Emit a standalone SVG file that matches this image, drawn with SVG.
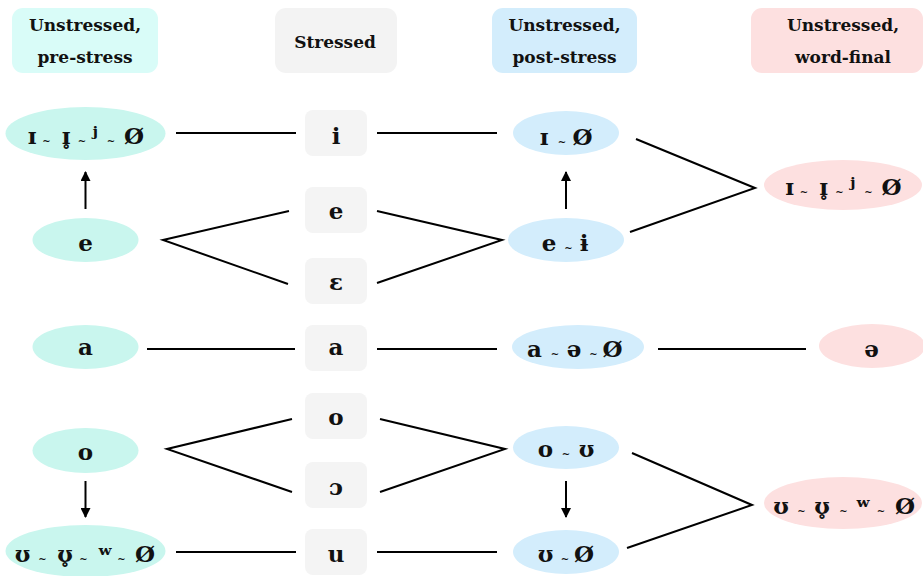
<svg xmlns="http://www.w3.org/2000/svg" width="923" height="576" viewBox="0 0 923 576">
<defs>
<style>
text{font-family:"DejaVu Serif","Liberation Serif",serif;font-weight:bold;fill:#111;text-anchor:middle}
.h{font-size:17px}
.n{font-size:23px}
.t{font-size:10px}
.c1{fill:#c9f6ee}
.c3{fill:#d3edfc}
.c4{fill:#fde0e0}
.st{fill:#f4f4f4}
.ln{stroke:#000;stroke-width:2;fill:none}
</style>
<marker id="ah" viewBox="0 0 10 10" refX="9" refY="5" markerWidth="5" markerHeight="5" orient="auto" markerUnits="strokeWidth">
<path d="M0,0 L10,5 L0,10 z" fill="#000"/>
</marker>
</defs>
<rect width="923" height="576" fill="#fff"/>

<g id="header1"><rect x="12" y="8" width="146" height="65" rx="11" fill="#d9fcf8"/><text class="h" x="85" y="31">Unstressed,</text><text class="h" x="85" y="63">pre-stress</text></g>
<g id="header2"><rect x="275" y="8" width="122" height="65" rx="11" fill="#f3f3f3"/><text class="h" x="335" y="48">Stressed</text></g>
<g id="header3"><rect x="492" y="8" width="145" height="65" rx="11" fill="#d3edfc"/><text class="h" x="564.5" y="31">Unstressed,</text><text class="h" x="564.5" y="63">post-stress</text></g>
<g id="header4"><rect x="751" y="8" width="172" height="65" rx="11" fill="#fde0e0"/><text class="h" x="843" y="31">Unstressed,</text><text class="h" x="843" y="63">word-final</text></g>

<g id="connectors">
<line class="ln" x1="176" y1="133" x2="296" y2="133"/>
<polyline class="ln" points="289,211 163,240 288,284"/>
<line class="ln" x1="147" y1="349" x2="295" y2="349"/>
<polyline class="ln" points="292,419 167,449 292,492"/>
<line class="ln" x1="176" y1="552" x2="296" y2="552"/>
<line class="ln" x1="377" y1="133" x2="497" y2="133"/>
<polyline class="ln" points="377,211 502,240 377,283"/>
<line class="ln" x1="377" y1="349" x2="497" y2="349"/>
<polyline class="ln" points="380,419 505,449 380,492"/>
<line class="ln" x1="377" y1="552" x2="497" y2="552"/>
<polyline class="ln" points="636,139 755,188 630,232"/>
<line class="ln" x1="658" y1="349" x2="806" y2="349"/>
<polyline class="ln" points="632,453 752,505 627,548"/>
<line class="ln" x1="85.5" y1="209" x2="85.5" y2="172" marker-end="url(#ah)"/>
<line class="ln" x1="85.5" y1="481" x2="85.5" y2="517" marker-end="url(#ah)"/>
<line class="ln" x1="566" y1="209" x2="566" y2="172" marker-end="url(#ah)"/>
<line class="ln" x1="566" y1="481" x2="566" y2="517" marker-end="url(#ah)"/>
</g>

<g id="pre-i"><ellipse class="c1" cx="85.5" cy="133.5" rx="80" ry="26.5"/><text class="n" y="144"><tspan x="32">ɪ</tspan><tspan class="t" x="46.5">~</tspan><tspan x="66">ɪ̥</tspan><tspan class="t" x="82">~</tspan><tspan x="94">ʲ</tspan><tspan class="t" x="111">~</tspan><tspan x="134">Ø</tspan></text></g>
<g id="pre-e"><ellipse class="c1" cx="85.5" cy="240" rx="53" ry="22"/><text class="n" x="85.5" y="251">e</text></g>
<g id="pre-a"><ellipse class="c1" cx="85.5" cy="347" rx="53" ry="22"/><text class="n" x="85.5" y="355">a</text></g>
<g id="pre-o"><ellipse class="c1" cx="85.5" cy="450.5" rx="53" ry="22.5"/><text class="n" x="85.5" y="460">o</text></g>
<g id="pre-u"><ellipse class="c1" cx="85.5" cy="551" rx="80" ry="26"/><text class="n" y="562"><tspan x="22.5">ʊ</tspan><tspan class="t" x="42.5">~</tspan><tspan x="65">ʊ̥</tspan><tspan class="t" x="83.5">~</tspan><tspan x="105">ʷ</tspan><tspan class="t" x="121.5">~</tspan><tspan x="145">Ø</tspan></text></g>

<g id="s-i"><rect class="st" x="305" y="110" width="62" height="46" rx="8"/><text class="n" x="336" y="144">i</text></g>
<g id="s-e"><rect class="st" x="305" y="187" width="62" height="46" rx="8"/><text class="n" x="336" y="219">e</text></g>
<g id="s-eps"><rect class="st" x="305" y="258" width="62" height="46" rx="8"/><text class="n" x="336" y="290">ɛ</text></g>
<g id="s-a"><rect class="st" x="305" y="325" width="62" height="46" rx="8"/><text class="n" x="336" y="355">a</text></g>
<g id="s-o"><rect class="st" x="305" y="393" width="62" height="46" rx="8"/><text class="n" x="336" y="425">o</text></g>
<g id="s-oo"><rect class="st" x="305" y="462" width="62" height="46" rx="8"/><text class="n" x="336" y="495">ɔ</text></g>
<g id="s-u"><rect class="st" x="305" y="529" width="62" height="46" rx="8"/><text class="n" x="336" y="562">u</text></g>

<g id="post-i"><ellipse class="c3" cx="566" cy="133" rx="53" ry="22"/><text class="n" y="145"><tspan x="544">ɪ</tspan><tspan class="t" x="562">~</tspan><tspan x="582.5">Ø</tspan></text></g>
<g id="post-e"><ellipse class="c3" cx="566" cy="240" rx="58" ry="22"/><text class="n" y="251"><tspan x="549">e</tspan><tspan class="t" x="568.5">~</tspan><tspan x="584">ɨ</tspan></text></g>
<g id="post-a"><ellipse class="c3" cx="578" cy="347" rx="66" ry="22"/><text class="n" y="357"><tspan x="534.5">a</tspan><tspan class="t" x="555">~</tspan><tspan x="574">ə</tspan><tspan class="t" x="593.5">~</tspan><tspan x="612.5">Ø</tspan></text></g>
<g id="post-o"><ellipse class="c3" cx="566" cy="447.5" rx="53" ry="21.5"/><text class="n" y="457"><tspan x="545.5">o</tspan><tspan class="t" x="566">~</tspan><tspan x="586.5">ʊ</tspan></text></g>
<g id="post-u"><ellipse class="c3" cx="566" cy="552" rx="53" ry="22"/><text class="n" y="562"><tspan x="545.5">ʊ</tspan><tspan class="t" x="565">~</tspan><tspan x="584">Ø</tspan></text></g>

<g id="fin-i"><ellipse class="c4" cx="843" cy="185" rx="79" ry="25"/><text class="n" y="195"><tspan x="789.5">ɪ</tspan><tspan class="t" x="804">~</tspan><tspan x="823.5">ɪ̥</tspan><tspan class="t" x="839.5">~</tspan><tspan x="851.5">ʲ</tspan><tspan class="t" x="868.5">~</tspan><tspan x="891.5">Ø</tspan></text></g>
<g id="fin-a"><ellipse class="c4" cx="872" cy="346" rx="53" ry="22"/><text class="n" x="871.5" y="357">ə</text></g>
<g id="fin-u"><ellipse class="c4" cx="843" cy="503" rx="79" ry="26"/><text class="n" y="514"><tspan x="781">ʊ</tspan><tspan class="t" x="801.5">~</tspan><tspan x="822">ʊ̥</tspan><tspan class="t" x="843.5">~</tspan><tspan x="863">ʷ</tspan><tspan class="t" x="881">~</tspan><tspan x="905">Ø</tspan></text></g>
</svg>
